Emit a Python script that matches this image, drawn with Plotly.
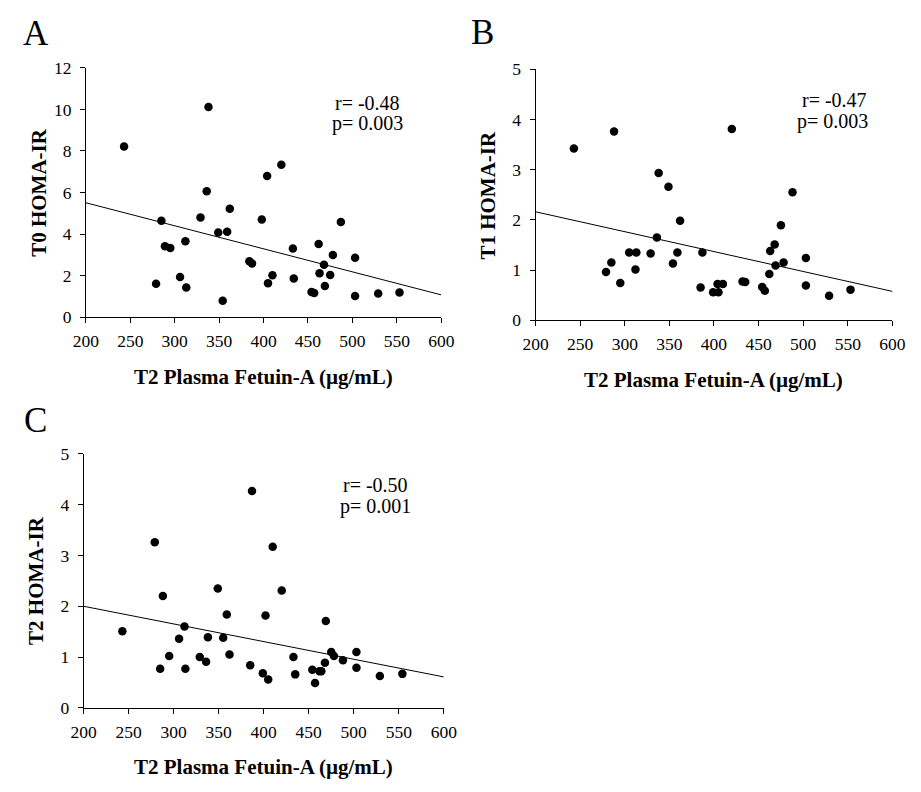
import plotly.graph_objects as go

W, H = 921, 792

# ---------------- data ----------------
a_x = [243, 338, 404, 336, 285, 329, 362, 398, 349, 359, 312, 289, 295, 384, 387, 306, 279, 313, 354,
       405, 420, 487, 433, 462, 478, 503, 468, 410, 434, 463, 475, 469, 454, 457, 503, 529, 553]
a_y = [8.22, 10.11, 6.80, 6.06, 4.64, 4.80, 5.22, 4.70, 4.08, 4.12, 3.66, 3.42, 3.34, 2.70, 2.59, 1.94, 1.62, 1.43, 0.80,
       1.64, 7.34, 4.59, 3.31, 3.53, 3.00, 2.87, 2.53, 2.02, 1.87, 2.12, 2.04, 1.51, 1.22, 1.17, 1.03, 1.15, 1.20]

b_x = [243, 288, 338, 349, 362, 336, 305, 313, 329, 359, 285, 279, 312, 295, 354, 387, 385,
       420, 488, 475, 468, 463, 469, 478, 503, 462, 399, 405, 404, 410, 432, 435, 454, 457, 503, 529, 553]
b_y = [3.42, 3.76, 2.93, 2.66, 1.98, 1.65, 1.35, 1.35, 1.33, 1.35, 1.15, 0.96, 1.01, 0.74, 1.13, 1.35, 0.65,
       3.81, 2.55, 1.89, 1.51, 1.38, 1.09, 1.15, 1.24, 0.92, 0.56, 0.56, 0.72, 0.72, 0.77, 0.76, 0.66, 0.59, 0.69, 0.49, 0.61]

c_x = [243, 279, 288, 285, 295, 306, 312, 313, 329, 336, 338, 349, 355, 359, 362, 385, 387, 399, 402, 405,
       410, 420, 469, 433, 435, 454, 457, 462, 464, 468, 475, 478, 488, 503, 503, 529, 554]
c_y = [1.51, 3.26, 2.20, 0.77, 1.02, 1.36, 1.60, 0.77, 1.00, 0.91, 1.39, 2.35, 1.38, 1.84, 1.05, 0.84, 4.27, 0.68, 1.82, 0.56,
       3.17, 2.31, 1.71, 1.00, 0.66, 0.75, 0.49, 0.72, 0.72, 0.89, 1.10, 1.02, 0.94, 1.10, 0.79, 0.63, 0.67]

trend_x = [200, 600]
trend_a = [5.51, 1.08]
trend_b = [2.16, 0.575]
trend_c = [2.00, 0.61]

x_ticks = [200, 250, 300, 350, 400, 450, 500, 550, 600]
a_ticks = [0, 2, 4, 6, 8, 10, 12]
bc_ticks = [0, 1, 2, 3, 4, 5]

panel_letters = ["A", "B", "C"]
y_titles = ["T0 HOMA-IR", "T1 HOMA-IR", "T2 HOMA-IR"]
x_title = "T2 Plasma Fetuin-A (µg/mL)"
r_texts = ["r= -0.48", "r= -0.47", "r= -0.50"]
p_texts = ["p= 0.003", "p= 0.003", "p= 0.001"]

# ---------------- layout helpers ----------------
def px(x):
    return x / W

def py(y):
    return 1 - y / H

SERIF = "Liberation Serif, Times New Roman, serif"

# pixel boxes: left, right, top, bottom
boxes = [(75, 440.7, 59.3, 315.3), (537.7, 905, 60.7, 318.3), (72.7, 443.3, 455.3, 716)]
yranges = [[0, 12], [0, 5], [0, 5]]
yticks = [a_ticks, bc_ticks, bc_ticks]
series = [(a_x, a_y, trend_a), (b_x, b_y, trend_b), (c_x, c_y, trend_c)]
letter_pos = [(24, 24), (483, 23.5), (23.3, 421.5)]
r_pos = [(365, 95), (845, 92.7), (373.5, 487.3)]
p_pos = [(365, 116.7), (843.5, 114.3), (373, 509.3)]

fig = go.Figure()
annotations = []
for i in range(3):
    xs, ys, tr = series[i]
    sfx = "" if i == 0 else str(i + 1)
    fig.add_trace(go.Scatter(x=xs, y=ys, mode="markers", xaxis="x" + sfx, yaxis="y" + sfx,
                             marker=dict(color="black", size=8.5), showlegend=False))
    fig.add_trace(go.Scatter(x=trend_x, y=tr, mode="lines", xaxis="x" + sfx, yaxis="y" + sfx,
                             line=dict(color="black", width=1), showlegend=False))
    l, r, t, b = boxes[i]
    axcommon = dict(showline=True, linecolor="black", linewidth=1, ticks="outside", ticklen=5,
                    tickcolor="black", tickwidth=1, showgrid=False, zeroline=False,
                    tickfont=dict(family=SERIF, size=17.5, color="black"))
    fig.update_layout(**{
        "xaxis" + sfx: dict(domain=[px(l), px(r)], range=[200, 600], tickvals=x_ticks,
                            anchor="y" + sfx, ticklabelstandoff=3, **axcommon),
        "yaxis" + sfx: dict(domain=[py(b), py(t)], range=yranges[i], tickvals=yticks[i],
                            anchor="x" + sfx, ticklabelstandoff=5, **axcommon),
    })
    # axis titles
    annotations.append(dict(text="<b>" + x_title + "</b>", x=px((l + r) / 2), y=py(b + 61),
                            xref="paper", yref="paper", showarrow=False, xanchor="center", yanchor="middle",
                            font=dict(family=SERIF, size=21, color="black")))
    annotations.append(dict(text="<b>" + y_titles[i] + "</b>", x=px(l - 49), y=py((t + b) / 2),
                            xref="paper", yref="paper", showarrow=False, textangle=-90,
                            xanchor="center", yanchor="middle",
                            font=dict(family=SERIF, size=21, color="black")))
    annotations.append(dict(text=panel_letters[i], x=px(letter_pos[i][0]), y=py(letter_pos[i][1]),
                            xref="paper", yref="paper", showarrow=False, xanchor="center", yanchor="middle",
                            font=dict(family=SERIF, size=35, color="black")))
    annotations.append(dict(text=r_texts[i], x=px(r_pos[i][0]), y=py(r_pos[i][1]),
                            xref="paper", yref="paper", showarrow=False, xanchor="center", yanchor="middle",
                            font=dict(family=SERIF, size=20, color="black")))
    annotations.append(dict(text=p_texts[i], x=px(p_pos[i][0]), y=py(p_pos[i][1]),
                            xref="paper", yref="paper", showarrow=False, xanchor="center", yanchor="middle",
                            font=dict(family=SERIF, size=20, color="black")))

fig.update_layout(width=W, height=H, margin=dict(l=0, r=0, t=0, b=0),
                  plot_bgcolor="white", paper_bgcolor="white", annotations=annotations,
                  font=dict(family=SERIF, color="black"))

fig.write_html("out.html", config={"displayModeBar": False},
               post_script="document.documentElement.style.margin='0px';document.body.style.margin='0px';document.body.style.overflow='hidden';")
